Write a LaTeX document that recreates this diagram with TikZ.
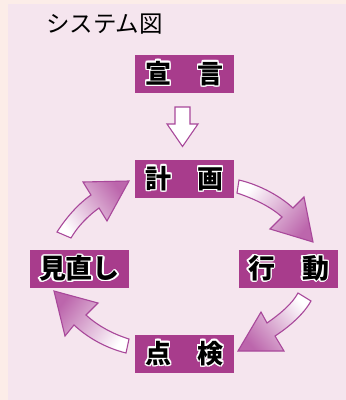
\documentclass[tikz,border=0pt]{standalone}
\usepackage{fontspec}
\newfontfamily\cjk{Noto Sans CJK JP}
\usepackage{contour}
\contourlength{1.4pt}
\definecolor{outerbg}{HTML}{FCEDE8}
\definecolor{innerbg}{HTML}{F5E5EE}
\definecolor{boxc}{HTML}{A83C8C}
\definecolor{arrline}{HTML}{A8489A}
\definecolor{arrpink}{HTML}{BC66AC}
\tikzset{
  stepbox/.style={fill=boxc, minimum width=99pt, minimum height=38pt, inner sep=0pt,
    font=\cjk\bfseries\fontsize{26}{26}\selectfont, text=black},
  curvarrow/.style={draw=arrline, line width=1.1pt, line join=miter, bottom color=white, top color=arrpink},
}
\begin{document}
\begin{tikzpicture}[x=1pt,y=-1pt]
\useasboundingbox (0,0) rectangle (346,400);
\fill[outerbg] (0,0) rectangle (346,400);
\fill[innerbg] (8,4) rectangle (346,400);
\node[anchor=west, inner sep=0pt, font=\cjk\fontsize{23.5}{23.5}\selectfont] (title) at (46,24) {システム図};
\node[stepbox] (sengen) at (184.5,74) {\contour{white}{宣　言}};
\node[stepbox] (keikaku) at (184.5,179) {\contour{white}{計　画}};
\node[stepbox, font=\cjk\bfseries\fontsize{27}{27}\selectfont] (minaoshi) at (79.5,269) {\contour{white}{見直し}};
\node[stepbox, font=\cjk\bfseries\fontsize{27}{27}\selectfont] (koudou) at (288.5,269) {\contour{white}{行　動}};
\node[stepbox] (tenken) at (184.5,354) {\contour{white}{点　検}};
% down arrow
\draw[arrline, fill=white, line width=1.1pt, line join=miter]
  (175,107) -- (190,107) -- (190,124) -- (198,124) -- (182.5,146.5) -- (167,124) -- (175,124) -- cycle;
% plan -> action
\draw[curvarrow, shading angle=-129]
  (239,180) .. controls (260,185) and (280,196) .. (293,208) -- (304,197) -- (313,242)
  -- (270,229) -- (282,217) .. controls (270,206) and (252,198) .. (237,193) -- cycle;
% action -> check
\draw[curvarrow, shading angle=131]
  (298,293) .. controls (292,304) and (280,314) .. (267,323) -- (261,312) -- (238,351)
  -- (284,351) -- (275,336) .. controls (292,325) and (305,312) .. (311,301) -- cycle;
% check -> review
\draw[curvarrow, shading angle=53]
  (129,339) .. controls (113,334) and (98,326) .. (86,315) -- (98,303) -- (54,291)
  -- (65,336) -- (74,325) .. controls (88,338) and (106,348) .. (126,353) -- cycle;
% review -> plan
\draw[curvarrow, shading angle=-53]
  (57,232) .. controls (66,218) and (78,204) .. (91,195) -- (83,182) -- (129,181)
  -- (107,221) -- (99,208) .. controls (88,216) and (78,226) .. (71,238) -- cycle;
\end{tikzpicture}
\end{document}
